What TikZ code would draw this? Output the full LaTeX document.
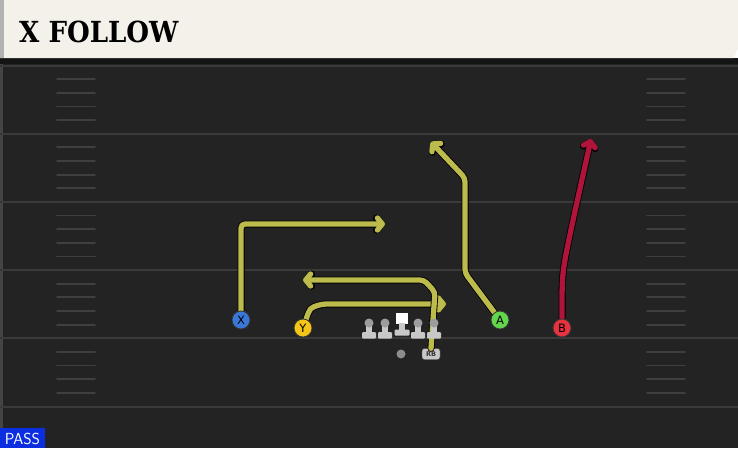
\documentclass[tikz,border=0pt]{standalone}
\usepackage{fontspec}
\usetikzlibrary{arrows.meta, calc}
\newfontfamily\titlefont{DejaVu Serif}
\newfontfamily\labelfont{DejaVu Sans}
\definecolor{fieldbg}{HTML}{232323}
\definecolor{yardline}{HTML}{3A3A3A}
\definecolor{hashline}{HTML}{3F3F3F}
\definecolor{headerbg}{HTML}{F4F1EA}
\definecolor{routeyel}{HTML}{BCBB4B}
\definecolor{routered}{HTML}{B0143A}
\definecolor{xblue}{HTML}{3A78D8}
\definecolor{yyellow}{HTML}{F5C518}
\definecolor{agreen}{HTML}{62D54C}
\definecolor{bred}{HTML}{E8323F}
\definecolor{linegray}{HTML}{C8C8C8}
\definecolor{headgray}{HTML}{9C9C9C}
\definecolor{passblue}{HTML}{0B2FE0}
\tikzset{
  player/.style={circle, draw=black!80, line width=0.8pt, minimum size=18pt, inner sep=0pt, font=\labelfont\fontsize{11.5}{11.5}\selectfont},
  route/.style={draw=routeyel, line width=5.3pt, line join=round, rounded corners=4pt,
    -{Straight Barb[length=5pt, width=12pt, round]}, preaction={draw=black, line width=7pt}},
  redroute/.style={route, draw=routered}
}
\begin{document}
\begin{tikzpicture}[line cap=round,line join=round,x=1pt,y=-1pt]
        \useasboundingbox (0,0) rectangle (738,448);
        % field and header
        \fill [fieldbg] (0,58) rectangle (738,448);
        \fill [black!40!fieldbg] (0,58) rectangle (738,64);
        \fill [fieldbg!85!white] (0,64) rectangle (3,428);
        \fill [headerbg] (0,0) -- (738,0) -- (738,48) -- (734,58) -- (0,58) -- cycle;
        \fill [gray!60] (0,0) rectangle (4,58);
        \node [anchor=west, inner sep=0pt] (title) at (19,32)
          {\titlefont\bfseries\fontsize{29}{29}\selectfont\scalebox{0.9}[1]{X FOLLOW}};
        % yard lines and hash marks
        \foreach \k in {0,...,5} {
          \draw [yardline, line width=2pt, line cap=butt] (0,65.5+68.2*\k) -- (738,65.5+68.2*\k);
        }
        \foreach \k in {0,...,4} {
          \foreach \j in {1,...,4} {
            \draw [hashline, line width=1.8pt] (57,65.5+68.2*\k+13.64*\j) -- (95,65.5+68.2*\k+13.64*\j);
            \draw [hashline, line width=1.8pt] (647,65.5+68.2*\k+13.64*\j) -- (685,65.5+68.2*\k+13.64*\j);
          }
        }
        % players
        \node [player, fill=xblue] (X) at (241,320) {X};
        \node [player, fill=yyellow] (Y) at (303,328) {Y};
        \node [player, fill=agreen] (A) at (500,320) {A};
        \node [player, fill=bred] (B) at (562,328) {B};
        \node [draw=black!70, fill=linegray, rounded corners=2.5pt, minimum width=18pt, minimum height=11pt, inner sep=0pt,
          font=\labelfont\bfseries\fontsize{6.5}{6.5}\selectfont, text=black!80] (RB) at (431,354) {RB};
        \node [circle, fill=headgray!90!black, minimum size=9pt, inner sep=0pt] (QB) at (401,354) {};
        % route turn points
        \coordinate (x1) at (241,224);
        \coordinate (x2) at (385,224);
        \coordinate (y1) at (322,304);
        \coordinate (y2) at (446,304);
        \coordinate (r1) at (435,292);
        \coordinate (r2) at (424,280);
        \coordinate (r3) at (303,280);
        \coordinate (a1) at (465,273);
        \coordinate (a2) at (465,178);
        \coordinate (a3) at (431,142);
        \coordinate (b1) at (562,293);
        \coordinate (b2) at (591,139);
        % routes
        \draw [route] (X) -- (x1) -- (x2);
        \draw [route] (Y) .. controls (310,308) .. (y1) -- (y2);
        \draw [route] (RB.north) -- (r1) -- (r2) -- (r3);
        \draw [route] (A) -- (a1) -- (a2) -- (a3);
        \draw [redroute] (B) -- (b1) .. controls (563,265) .. (b2);
        \node [player, fill=xblue] at (X) {X};
        \node [player, fill=yyellow] at (Y) {Y};
        \node [player, fill=agreen] at (A) {A};
        \node [player, fill=bred] at (B) {B};
        % offensive line
        \foreach \x in {369,385,418,434} {
          \fill [linegray] (\x-3,323) rectangle (\x+3,334);
          \fill [linegray, rounded corners=1pt] (\x-7,332) rectangle (\x+7,338.5);
          \fill [headgray] (\x,323) circle (4.5pt);
        }
        \fill [white] (396,312.5) rectangle (408,323.5);
        \fill [linegray] (399,323) rectangle (405,331);
        \fill [linegray, rounded corners=1pt] (394.5,329.5) rectangle (409.5,335.5);
        % play type
        \fill [passblue] (0,428) rectangle (45,448);
        \node [text=white, inner sep=0pt, font=\sffamily\fontsize{16}{16}\selectfont] (pass) at (22.5,439) {PASS};
    \end{tikzpicture}
\end{document}
